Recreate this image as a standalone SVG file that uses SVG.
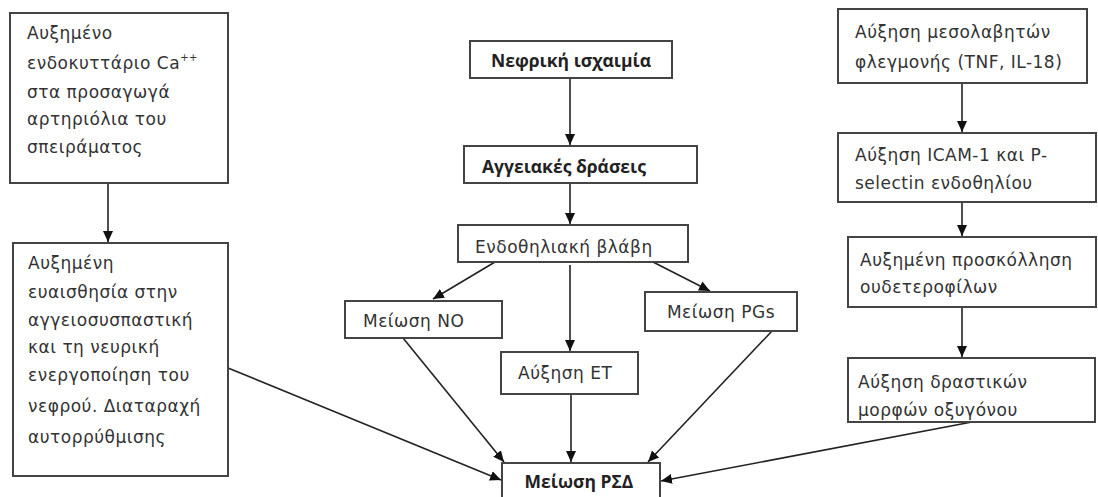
<svg xmlns="http://www.w3.org/2000/svg" width="1098" height="497" viewBox="0 0 1098 497">
<style>
.box{fill:#fff;stroke:#444;stroke-width:2}
.t{font-family:"DejaVu Sans","Noto Sans",sans-serif;font-size:17px;letter-spacing:0.5px;fill:#333}
.b{font-family:"Open Sans","Noto Sans","DejaVu Sans",sans-serif;font-size:17.5px;font-weight:bold;fill:#222}
.c{stroke:#222;stroke-width:1.6;fill:none;marker-end:url(#ah)}
</style>
<defs>
<marker id="ah" markerUnits="userSpaceOnUse" markerWidth="12" markerHeight="12" viewBox="0 0 12 12" refX="11" refY="6" orient="auto">
<path d="M0,1 L11,6 L0,11 Z" fill="#111"/>
</marker>
</defs>
<rect width="1098" height="497" fill="#fff"/>
<g id="connectors">
<line class="c" x1="108" y1="183" x2="108" y2="242"/>
<line class="c" x1="570" y1="78" x2="570" y2="145"/>
<line class="c" x1="570" y1="183" x2="570" y2="224"/>
<line class="c" x1="495" y1="262" x2="433" y2="299"/>
<line class="c" x1="570" y1="265" x2="570" y2="351"/>
<line class="c" x1="653" y1="262" x2="710" y2="291"/>
<line class="c" x1="403" y1="338" x2="504" y2="462"/>
<line class="c" x1="571" y1="394" x2="571" y2="462"/>
<line class="c" x1="772" y1="331" x2="648" y2="462"/>
<line class="c" x1="228" y1="368" x2="501" y2="480"/>
<line class="c" x1="972" y1="422" x2="661" y2="481"/>
<line class="c" x1="962" y1="83" x2="962" y2="132"/>
<line class="c" x1="962" y1="202" x2="962" y2="236"/>
<line class="c" x1="962" y1="307" x2="962" y2="357"/>
</g>
<g id="n1">
<rect class="box" x="10" y="13" width="218" height="170"/>
<text class="t" x="27" y="39">Αυξημένο</text>
<text class="t" x="27" y="69">ενδοκυττάριο Ca<tspan font-size="10" dy="-8">++</tspan></text>
<text class="t" x="27" y="98">στα προσαγωγά</text>
<text class="t" x="27" y="125">αρτηριόλια του</text>
<text class="t" x="27" y="153">σπειράματος</text>
</g>
<g id="n2">
<rect class="box" x="13" y="243" width="215" height="233"/>
<text class="t" x="28" y="269">Αυξημένη</text>
<text class="t" x="28" y="298">ευαισθησία στην</text>
<text class="t" x="28" y="326">αγγειοσυσπαστική</text>
<text class="t" x="28" y="353">και τη νευρική</text>
<text class="t" x="28" y="381">ενεργοποίηση του</text>
<text class="t" x="28" y="412">νεφρού. Διαταραχή</text>
<text class="t" x="28" y="443">αυτορρύθμισης</text>
</g>
<g id="n3">
<rect class="box" x="470" y="41" width="202" height="37"/>
<text class="b" x="571" y="67" text-anchor="middle">Νεφρική ισχαιμία</text>
</g>
<g id="n4">
<rect class="box" x="464" y="146" width="233" height="37"/>
<text class="b" x="482" y="173">Αγγειακές δράσεις</text>
</g>
<g id="n5">
<rect class="box" x="458" y="225" width="230" height="37"/>
<text class="t" x="475" y="253">Ενδοθηλιακή βλάβη</text>
</g>
<g id="n6">
<rect class="box" x="345" y="301" width="157" height="37"/>
<text class="t" x="363" y="327">Μείωση NO</text>
</g>
<g id="n7">
<rect class="box" x="501" y="352" width="137" height="42"/>
<text class="t" x="518" y="379">Αύξηση ET</text>
</g>
<g id="n8">
<rect class="box" x="645" y="292" width="152" height="39"/>
<text class="t" x="721" y="318" text-anchor="middle">Μείωση PGs</text>
</g>
<g id="n9">
<rect class="box" x="502" y="463" width="158" height="40"/>
<text class="b" x="579" y="488" text-anchor="middle">Μείωση ΡΣΔ</text>
</g>
<g id="n10">
<rect class="box" x="838" y="9" width="249" height="74"/>
<text class="t" x="855" y="38">Αύξηση μεσολαβητών</text>
<text class="t" x="855" y="68">φλεγμονής (TNF, IL-18)</text>
</g>
<g id="n11">
<rect class="box" x="838" y="133" width="258" height="69"/>
<text class="t" x="855" y="161">Αύξηση ICAM-1 και P-</text>
<text class="t" x="855" y="189">selectin ενδοθηλίου</text>
</g>
<g id="n12">
<rect class="box" x="848" y="237" width="248" height="70"/>
<text class="t" x="860" y="266">Αυξημένη προσκόλληση</text>
<text class="t" x="860" y="293">ουδετεροφίλων</text>
</g>
<g id="n13">
<rect class="box" x="848" y="358" width="247" height="64"/>
<text class="t" x="858" y="388">Αύξηση δραστικών</text>
<text class="t" x="858" y="416">μορφών οξυγόνου</text>
</g>
</svg>
